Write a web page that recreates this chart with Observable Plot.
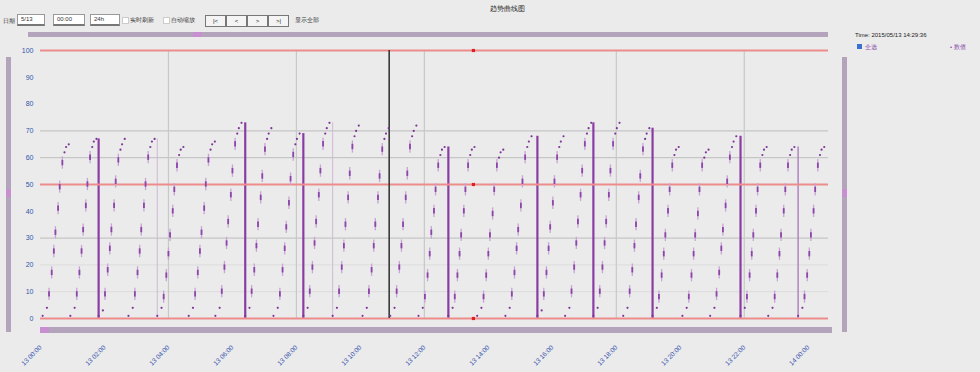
<!DOCTYPE html>
<html><head><meta charset="utf-8">
<script src="https://cdn.jsdelivr.net/npm/d3@7"></script>
<script src="https://cdn.jsdelivr.net/npm/@observablehq/plot@0.6"></script>
<style>
html,body{margin:0;padding:0;background:#ebebeb;width:980px;height:372px;overflow:hidden;font-family:"Liberation Sans",Arial,sans-serif;}
#wrap{position:relative;width:980px;height:372px;}
#chart{position:absolute;left:0;top:0;}
.abs{position:absolute;}
.box{position:absolute;height:9px;background:#fff;border:1px solid #999;border-bottom:2px solid #777;font-size:6px;line-height:9px;color:#333;padding-left:3px;box-sizing:content-box;}
.lbl{position:absolute;font-size:6px;color:#333;line-height:8px;white-space:nowrap;}
.btn{position:absolute;top:15px;width:19px;height:10px;border:1px solid #777;background:#f4f4f4;font-size:6px;line-height:10px;text-align:center;color:#222;}
.bar{position:absolute;background:#b4a4bb;}
.handle{position:absolute;background:#c88fd0;}
</style></head>
<body><div id="wrap">
<div id="chart"></div>
<div class="lbl" style="left:3px;top:17px">日期</div>
<div class="box" style="left:17px;top:14px;width:23px">5/13</div>
<div class="box" style="left:53px;top:14px;width:27px">00:00</div>
<div class="box" style="left:90px;top:14px;width:25px">24h</div>
<div class="abs" style="left:122px;top:17px;width:5px;height:5px;background:#fff;border:1px solid #ccc"></div>
<div class="lbl" style="left:130px;top:16px">实时刷新</div>
<div class="abs" style="left:163px;top:17px;width:5px;height:5px;background:#fff;border:1px solid #ccc"></div>
<div class="lbl" style="left:171px;top:16px">自动缩放</div>
<div class="btn" style="left:205px">|&lt;</div>
<div class="btn" style="left:226px">&lt;</div>
<div class="btn" style="left:247px">&gt;</div>
<div class="btn" style="left:268px">&gt;|</div>
<div class="lbl" style="left:295px;top:16px">显示全部</div>
<div class="abs" style="left:490px;top:4px;font-size:7px;color:#222">趋势曲线图</div>
<div class="bar" style="left:28px;top:32px;width:800px;height:5px"></div>
<div class="handle" style="left:193px;top:32px;width:9px;height:5px"></div>
<div class="bar" style="left:6px;top:57px;width:5px;height:275px"></div>
<div class="handle" style="left:6px;top:189px;width:5px;height:8px"></div>
<div class="bar" style="left:842px;top:57px;width:5px;height:275px"></div>
<div class="handle" style="left:842px;top:189px;width:5px;height:8px"></div>
<div class="bar" style="left:40px;top:327px;width:792px;height:6px"></div>
<div class="handle" style="left:40px;top:327px;width:9px;height:6px"></div>
<div class="lbl" style="left:855px;top:31px;color:#222">Time: 2015/05/13 14:29:36</div>
<div class="abs" style="left:857px;top:44px;width:5px;height:5px;background:#3b6fd0"></div>
<div class="lbl" style="left:865px;top:43px;color:#8a4aa8">全选</div>
<div class="lbl" style="left:950px;top:43px;color:#8a4aa8">• 数值</div>
</div>
<script>
const yTicks = [0,10,20,30,40,50,60,70,80,90,100];
const yLabels = ["0","10","20","30","40","50","60","70","80","90","100"];
const xTicks = [0,120,240,360,480,600,720,840,960,1080,1200,1320,1440];
const xLabels = ["13 00:00","13 02:00","13 04:00","13 06:00","13 08:00","13 10:00","13 12:00","13 14:00","13 16:00","13 18:00","13 20:00","13 22:00","14 00:00"];
const vGrid = [240,480,720,1080,1320];
const hGridMain = [30,60,70];
const hGridFaint = [10,20];
const limitLines = [0,50,100];
const cursorTime = 654;
const markerTime = 812;
const toothStart = [4,56,109,165,219,278,328,384,437,493,548,604,656,709,765,819,872,932,984,1037,1093,1148,1204,1256,1313,1365,1421];
const sampleOffset = [0,8,12,17,21,24,29,32,37,41,44,49];
const toothValues = [
 [1,4,9,17,25,32,41,49,58,62,64,65],
 [1,4,9,17,25,33,42,50,60,64,66,67],
 [1,3,9,18,26,33,42,51,59,63,65,67],
 [1,4,9,17,25,33,42,50,60,64,66,67],
 [1,4,8,16,24,31,40,48,57,61,63,64],
 [1,4,9,17,25,32,41,50,59,63,65,66],
 [1,4,10,19,28,36,46,55,65,69,71,73],
 [1,4,10,18,27,35,45,53,63,67,69,71],
 [1,4,9,18,26,34,43,52,61,65,67,69],
 [1,4,10,19,28,36,46,55,65,69,71,73],
 [1,4,10,19,27,35,45,54,64,68,70,72],
 [1,4,10,18,27,35,45,53,63,67,69,71],
 [1,4,10,19,27,35,45,54,64,68,70,72],
 [1,4,8,16,24,32,40,48,57,61,63,64],
 [1,4,8,16,24,31,40,48,57,61,63,64],
 [1,4,8,16,24,31,39,48,57,60,62,63],
 [1,4,9,17,26,33,42,51,60,64,66,68],
 [1,3,9,17,26,34,43,51,60,64,66,68],
 [1,4,10,19,28,36,46,55,65,69,71,73],
 [1,4,10,19,28,36,46,55,65,69,71,73],
 [1,4,10,18,27,35,45,53,63,67,69,71],
 [1,4,8,16,24,31,40,48,57,61,63,64],
 [1,4,8,16,24,31,39,48,57,60,62,63],
 [1,4,9,17,26,33,42,51,60,64,66,68],
 [1,4,8,16,24,31,40,48,57,61,63,64],
 [1,4,8,16,24,31,40,48,57,61,63,64],
 [1,4,8,16,24,31,40,48,57,61,63,64]
];
const dashSamples = [2,3,4,5,6,7,8];
const thickDropAfter = [1,6,8,13,16,18,20,23];
const mediumDropAfter = [25];
const faintDropAfter = [3,9];

const pts = [];
toothValues.forEach((vals, ti) => vals.forEach((v, si) => pts.push({t: toothStart[ti] + sampleOffset[si], v, dash: dashSamples.includes(si)})));
const drops = arr => arr.map(i => ({t: toothStart[i+1], peak: toothValues[i][toothValues[i].length-1]}));
const blue = "#3553b0";

const chart = Plot.plot({
  width: 980, height: 372,
  marginLeft: 40, marginRight: 152, marginTop: 50, marginBottom: 54,
  style: {background: "transparent", fontFamily: "Liberation Sans, Arial, sans-serif"},
  x: {domain: [0, 1478], axis: null, label: null},
  y: {domain: [0, 100], axis: null, label: null},
  marks: [
    Plot.ruleY(hGridFaint, {stroke: "#dcdcdc", strokeWidth: 1}),
    Plot.ruleY(hGridMain, {stroke: "#c6c6c6", strokeWidth: 1.2}),
    Plot.ruleX(vGrid, {stroke: "#c8c8c8", strokeWidth: 1.2}),
    Plot.ruleX(drops(faintDropAfter), {x: "t", y1: 0, y2: "peak", stroke: "#d2b6da", strokeWidth: 1}),
    Plot.ruleX(drops(mediumDropAfter), {x: "t", y1: 0, y2: "peak", stroke: "#b184c2", strokeWidth: 1.5}),
    Plot.ruleX(drops(thickDropAfter), {x: "t", y1: 0, y2: "peak", stroke: "#8a3ca3", strokeWidth: 2.2}),
    Plot.ruleY(limitLines, {stroke: "#ee8c8c", strokeWidth: 2}),
    Plot.ruleX([cursorTime], {y1: 0, y2: 100, stroke: "#3a3a3a", strokeWidth: 1.6}),
    Plot.ruleX(pts.filter(d => d.dash), {x: "t", y1: d => d.v - 2.3, y2: d => d.v + 2.3, stroke: "#c7a3d6", strokeWidth: 1.3}),
    Plot.ruleX(pts.filter(d => d.dash), {x: "t", y1: d => d.v - 1.0, y2: d => d.v + 1.0, stroke: "#8c45a8", strokeWidth: 1.8}),
    Plot.dot(pts.filter(d => !d.dash), {x: "t", y: "v", r: 1.1, fill: "#7d3598"}),
    Plot.dot(limitLines, {x: () => markerTime, y: d => d, r: 1.8, fill: "#e02020", symbol: "square"}),
    Plot.axisY({ticks: yTicks, tickFormat: (d, i) => yLabels[i], tickSize: 0, tickPadding: 7, fontSize: 7, fill: blue, label: null}),
    Plot.axisX({ticks: xTicks, tickFormat: (d, i) => xLabels[i], tickSize: 0, tickPadding: 28, tickRotate: -45, fontSize: 6.5, fill: blue, label: null})
  ]
});
document.getElementById("chart").appendChild(chart);
</script>
</body></html>
